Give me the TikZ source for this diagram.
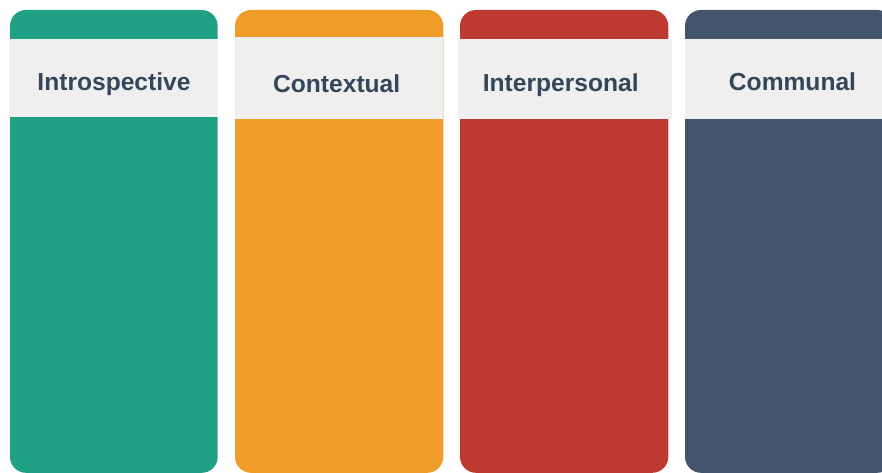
\documentclass[tikz,border=0pt]{standalone}
\usepackage{fontspec}
\setmainfont{Liberation Sans}
\definecolor{cgreen}{RGB}{32,161,133}
\definecolor{corange}{RGB}{240,156,40}
\definecolor{cred}{RGB}{190,58,48}
\definecolor{cblue}{RGB}{68,84,106}
\definecolor{chead}{RGB}{239,239,239}
\definecolor{ctext}{RGB}{53,70,90}
\tikzset{
  colbox/.style={rounded corners=16pt},
  headbox/.style={fill=chead},
  headtext/.style={anchor=base, text=ctext, font=\fontsize{24.6pt}{28pt}\selectfont\bfseries, inner sep=0pt}
}
\begin{document}
\begin{tikzpicture}[x=1pt,y=-1pt]
\useasboundingbox (0,0) rectangle (882,473);
\clip (0,0) rectangle (882,473);
% columns
\fill[cgreen,colbox] (10,10) rectangle (217.7,472.8);
\fill[corange,colbox] (235,10) rectangle (443.3,472.8);
\fill[cred,colbox] (460,10) rectangle (668.3,472.8);
\fill[cblue,colbox] (685,10) rectangle (893,472.8);
% headers
\fill[headbox] (9.3,39) rectangle (217.7,116.7);
\fill[headbox] (235,37.3) rectangle (443.3,119);
\fill[headbox] (458.3,39) rectangle (671.7,119.3);
\fill[headbox] (685,39) rectangle (893,119.3);
% labels
\node[headtext] (t1) at (114,90.7) {Introspective};
\node[headtext] (t2) at (336.7,92.5) {Contextual};
\node[headtext] (t3) at (560.7,91.7) {Interpersonal};
\node[headtext] (t4) at (792.5,90.7) {Communal};
\end{tikzpicture}
\end{document}
